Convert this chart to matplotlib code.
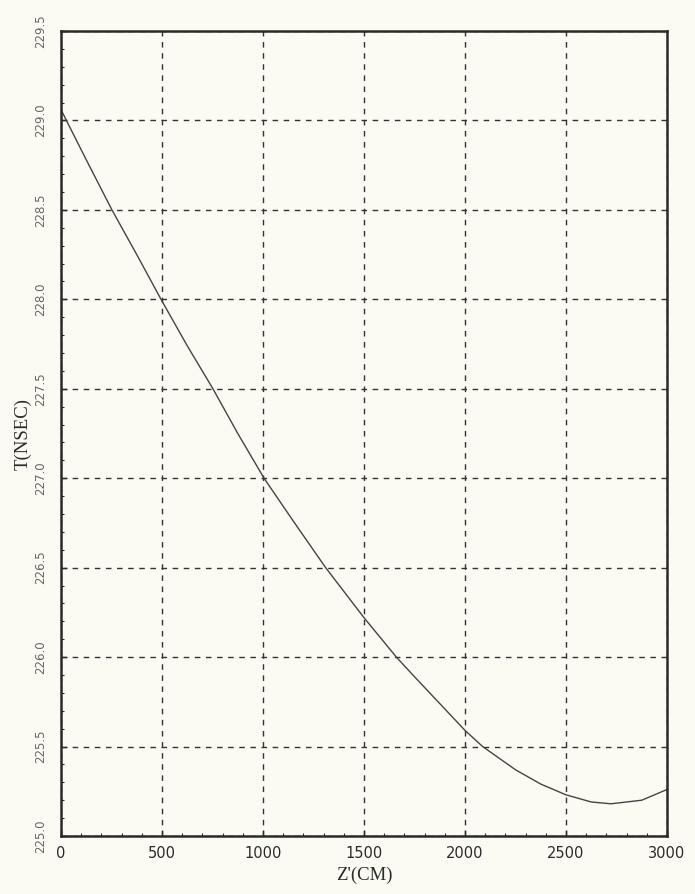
import matplotlib
matplotlib.use("Agg")
import matplotlib.pyplot as plt
from matplotlib.ticker import MultipleLocator

# values
z = [0, 125, 252, 375, 495, 625, 752, 875, 1005, 1150, 1310, 1500, 1660,
     1750, 1875, 2000, 2087, 2250, 2375, 2500, 2625, 2723, 2875, 3000]
t = [229.06, 228.78, 228.5, 228.25, 228.0, 227.74, 227.5, 227.25, 227.0,
     226.76, 226.5, 226.22, 226.0, 225.89, 225.74, 225.59, 225.5, 225.37,
     225.29, 225.23, 225.19, 225.18, 225.2, 225.26]

xticks = [0, 500, 1000, 1500, 2000, 2500, 3000]
yticks = [225.0, 225.5, 226.0, 226.5, 227.0, 227.5, 228.0, 228.5, 229.0, 229.5]

bg = '#fbfbf3'
ink = '#2a2a2a'

fig = plt.figure(figsize=(6.95, 8.94), dpi=100, facecolor=bg)
ax = fig.add_axes([0.0878, 0.0649, 0.872, 0.9004], facecolor=bg)

ax.plot(z, t, color='#444444', lw=1.0)

ax.set_xlim(0, 3000)
ax.set_ylim(225.0, 229.5)
ax.set_xticks(xticks)
ax.set_yticks(yticks)
ax.set_xticklabels([str(v) for v in xticks], family='DejaVu Sans', fontsize=10.5, color=ink)
ax.set_yticklabels(['%.1f' % v for v in yticks], family='DejaVu Sans', fontsize=8.5,
                   color='#666666', rotation=90, va='center')
ax.xaxis.set_minor_locator(MultipleLocator(100))
ax.yaxis.set_minor_locator(MultipleLocator(0.1))
ax.tick_params(which='major', direction='in', length=4, width=1, color=ink)
ax.tick_params(which='minor', direction='in', length=2.5, width=0.8, color=ink)
ax.tick_params(axis='x', pad=7)
ax.tick_params(axis='y', pad=10)

ax.grid(True, which='major', color='#333333', lw=1.0, ls=(0, (4, 4)))

for s in ax.spines.values():
    s.set_linewidth(1.8)
    s.set_color(ink)

ax.set_xlabel("Z'(CM)", family='Liberation Serif', fontsize=13.5, color=ink, labelpad=4)
ax.set_ylabel("T(NSEC)", family='Liberation Serif', fontsize=13.5, color=ink, labelpad=2)

fig.savefig('out.png', dpi=100, facecolor=bg)
